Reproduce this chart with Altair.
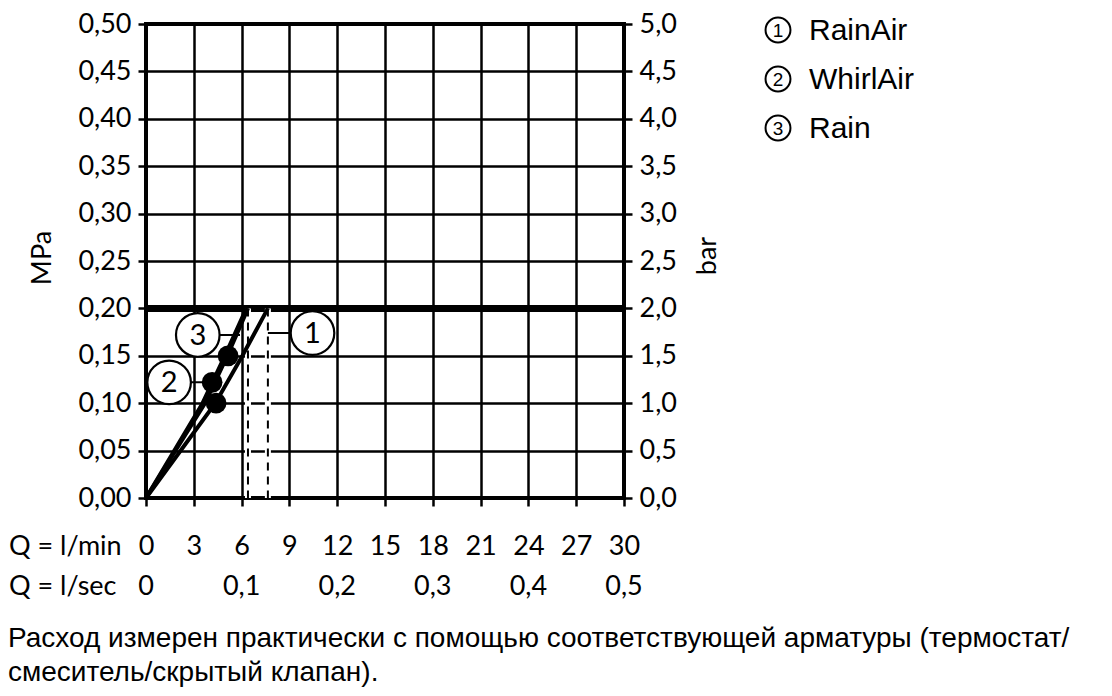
import altair as alt
import pandas as pd

# ---------------- data ----------------
q_ticks = [0, 3, 6, 9, 12, 15, 18, 21, 24, 27, 30]
p_ticks = [0.0, 0.05, 0.10, 0.15, 0.20, 0.25, 0.30, 0.35, 0.40, 0.45, 0.50]
lsec_pos = [0, 6, 12, 18, 24, 30]
lsec_labels = ["0", "0,1", "0,2", "0,3", "0,4", "0,5"]

curve_p = [0.0, 0.10, 0.15, 0.20]
rainair_q = [0.0, 4.35, 6.05, 7.65]
whirlair_q = [0.0, 3.70, 5.10, 6.40]
rain_q = [0.0, 3.55, 4.95, 6.30]

dot_series = ["Rain", "WhirlAir", "RainAir"]
dot_q = [5.15, 4.15, 4.40]
dot_p = [0.150, 0.122, 0.100]

max_flow_q = [6.40, 7.65]
max_flow_p = [0.20, 0.20]
pressure_limit = [0.20]

label_num = ["1", "2", "3"]
label_q = [10.45, 1.45, 3.25]
label_p = [0.174, 0.122, 0.172]
leader_q = [7.65, 4.15, 5.90]

legend_num = ["1", "2", "3"]
legend_names = ["RainAir", "WhirlAir", "Rain"]

footnote_lines = [
    "Расход измерен практически с помощью соответствующей арматуры (термостат/",
    "смеситель/скрытый клапан).",
]

# ---------------- tables ----------------
curves = pd.concat([
    pd.DataFrame({"series": "RainAir", "q": rainair_q, "p": curve_p, "o": range(len(curve_p))}),
    pd.DataFrame({"series": "WhirlAir", "q": whirlair_q, "p": curve_p, "o": range(len(curve_p))}),
    pd.DataFrame({"series": "Rain", "q": rain_q, "p": curve_p, "o": range(len(curve_p))}),
])
dots = pd.DataFrame({"series": dot_series, "q": dot_q, "p": dot_p})
flows = pd.DataFrame({"q": max_flow_q, "p": max_flow_p, "p0": [0.0] * len(max_flow_q)})
limit = pd.DataFrame({"p": pressure_limit})
labels = pd.DataFrame({"n": label_num, "q": label_q, "p": label_p, "q2": leader_q})
lsec = pd.DataFrame({"q": lsec_pos, "t": lsec_labels})

# ---------------- layout ----------------
LEFT, TOP = 146, 24          # page position of the plot area
W, H = 478, 474
FONT = "Lato"
FS = 27


def rx(x_abs):
    return x_abs - LEFT


def ry(y_abs):
    return y_abs - TOP


xs = alt.Scale(domain=[0, 30], nice=False)
ys = alt.Scale(domain=[0, 0.5], nice=False)

X = alt.X("q:Q", scale=xs, axis=alt.Axis(values=q_ticks, grid=True, title=None,
                                         labelPadding=27, labelFlush=False, labelOverlap=False))
Y = alt.Y("p:Q", scale=ys, axis=alt.Axis(values=p_ticks, grid=True, title=None,
                                         labelExpr="replace(format(datum.value, '.2f'), '.', ',')",
                                         labelPadding=7, labelFlush=False, labelOverlap=False))

flow_halo = alt.Chart(flows).mark_rule(color="white", strokeWidth=6).encode(
    x=X, y=Y, y2="p0:Q")
flow_dash = alt.Chart(flows).mark_rule(color="black", strokeWidth=2, strokeDash=[8, 6]).encode(
    x=X, y=Y, y2="p0:Q")

curve_lines = alt.Chart(curves).mark_line(color="black", strokeWidth=4).encode(
    x=X, y=Y, detail="series:N", order="o:Q")

leaders = alt.Chart(labels).mark_rule(color="black", strokeWidth=2).encode(
    x=X, x2="q2:Q", y=Y)

dot_marks = alt.Chart(dots).mark_point(shape="circle", filled=True, color="black", size=430, opacity=1).encode(
    x=X, y=Y)

label_circles = alt.Chart(labels).mark_point(shape="circle", filled=True, fill="white", stroke="black",
                                             strokeWidth=2.2, size=1900, opacity=1).encode(x=X, y=Y)
label_text = alt.Chart(labels).mark_text(font=FONT, fontSize=29, baseline="middle", align="center",
                                         color="black", dy=1).encode(x=X, y=Y, text="n:N")

lsec_text = alt.Chart(lsec).mark_text(font=FONT, fontSize=FS, baseline="alphabetic", align="center",
                                      color="black").encode(x=X, y=alt.value(ry(595)), text="t:N")


def fixed_text(txt, x, y, **kw):
    return alt.Chart(pd.DataFrame({"t": [txt]})).mark_text(color="black", **kw).encode(
        text="t:N", x=alt.value(x), y=alt.value(y))


extra = [
    fixed_text("Q = l/min", rx(9), ry(555), font=FONT, fontSize=FS, align="left", baseline="alphabetic"),
    fixed_text("Q = l/sec", rx(9), ry(595), font=FONT, fontSize=FS, align="left", baseline="alphabetic"),
    fixed_text("MPa", rx(43), ry(258), font=FONT, fontSize=FS, align="center", baseline="middle", angle=270),
    fixed_text("bar", rx(708), ry(256), font=FONT, fontSize=FS, align="center", baseline="middle", angle=270),
]

for i, (num, name) in enumerate(zip(legend_num, legend_names)):
    cy = 30 + 49 * i
    extra.append(
        alt.Chart(pd.DataFrame({"t": [num]})).mark_point(shape="circle", filled=False, color="black",
                                                        strokeWidth=2, size=620, opacity=1).encode(
            x=alt.value(rx(778)), y=alt.value(ry(cy))))
    extra.append(fixed_text(num, rx(778), ry(cy + 7), font="Liberation Sans", fontSize=19,
                            align="center", baseline="alphabetic"))
    extra.append(fixed_text(name, rx(809), ry(cy + 10), font="Liberation Sans", fontSize=30,
                            align="left", baseline="alphabetic"))

for i, line in enumerate(footnote_lines):
    extra.append(fixed_text(line, rx(8), ry(647 + 34 * i), font="Liberation Sans", fontSize=28,
                            align="left", baseline="alphabetic"))

inner = alt.layer(flow_halo, flow_dash, curve_lines, leaders, dot_marks,
                  label_circles, label_text, lsec_text, *extra)

right = alt.Chart(limit).mark_rule(color="black", strokeWidth=7).encode(
    y=alt.Y("p:Q", scale=ys, axis=alt.Axis(orient="right", values=p_ticks, grid=False, title=None,
                                           labelExpr="replace(format(datum.value * 10, '.1f'), '.', ',')",
                                           labelPadding=7, labelFlush=False, labelOverlap=False)))

chart = alt.layer(right, inner).resolve_scale(y="independent").properties(
    width=W, height=H,
    autosize=alt.AutoSizeParams(type="none"),
    padding={"left": LEFT - 8, "top": TOP - 8, "right": 1096 - (LEFT - 8) - W, "bottom": 680 - (TOP - 8) - H},
).configure_view(
    stroke="black", strokeWidth=4
).configure_axis(
    labelFont=FONT, labelFontSize=FS, labelColor="black",
    tickColor="black", tickWidth=2.5, tickSize=8,
    gridColor="black", gridWidth=2.5, gridOpacity=1,
    domain=False,
)

chart.save("out.html", embed_options={"renderer": "svg", "actions": False})
